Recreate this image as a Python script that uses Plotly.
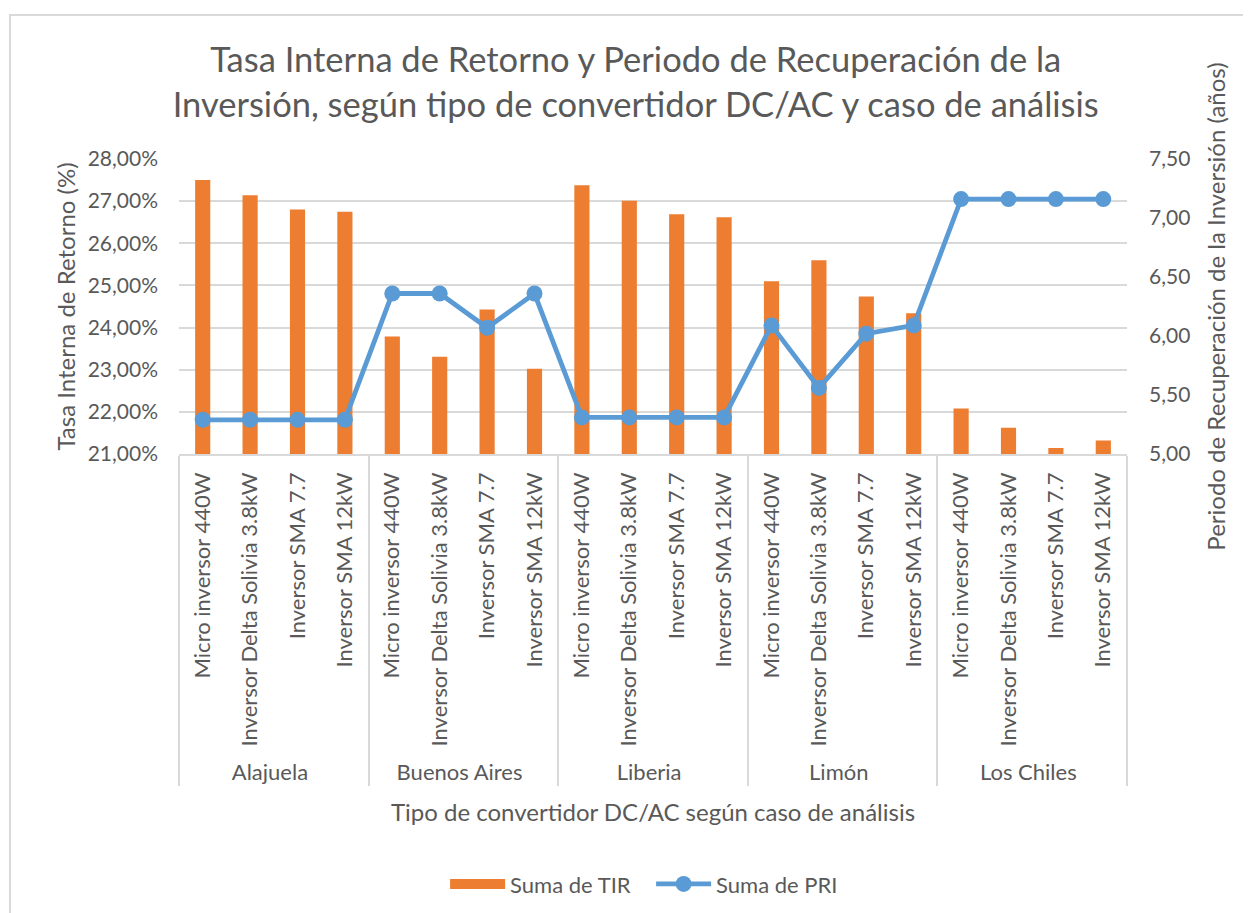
import plotly.graph_objects as go

cities = ["Alajuela", "Buenos Aires", "Liberia", "Limón", "Los Chiles"]
inverters = ["Micro inversor 440W", "Inversor Delta Solivia 3.8kW", "Inversor SMA 7.7", "Inversor SMA 12kW"]

tir = [27.50, 27.14, 26.80, 26.75,
       23.79, 23.31, 24.43, 23.02,
       27.38, 27.01, 26.69, 26.62,
       25.10, 25.60, 24.74, 24.34,
       22.08, 21.62, 21.14, 21.32]
pri = [5.29, 5.29, 5.29, 5.29,
       6.36, 6.36, 6.07, 6.36,
       5.31, 5.31, 5.31, 5.31,
       6.09, 5.56, 6.02, 6.09,
       7.16, 7.16, 7.16, 7.16]

tir_frac = [v / 100 for v in tir]
x_outer = [c for c in cities for _ in inverters]
x_inner = [i for _ in cities for i in inverters]

FONT = "Lato"
GREY = "#595959"
ORANGE = "#ED7D31"
BLUE = "#5B9BD5"

fig = go.Figure()
fig.add_trace(go.Bar(
    x=[x_outer, x_inner], y=tir_frac, name="Suma de TIR",
    marker=dict(color=ORANGE, line=dict(width=0)), width=0.32,
    yaxis="y", showlegend=False,
))
# legend entry styled as a wide orange swatch
fig.add_trace(go.Scatter(
    x=[None], y=[None], name="Suma de TIR", mode="lines",
    line=dict(color=ORANGE, width=14), yaxis="y",
))
fig.add_trace(go.Scatter(
    x=[x_outer, x_inner], y=pri, name="Suma de PRI", mode="lines+markers",
    line=dict(color=BLUE, width=4.8), marker=dict(size=16, color=BLUE),
    yaxis="y2",
))

fig.update_layout(
    width=1243, height=905,
    paper_bgcolor="white", plot_bgcolor="white",
    font=dict(family=FONT, color=GREY, size=21),
    margin=dict(l=171, r=124, t=151, b=459, autoexpand=False),
    title=dict(
        text="Tasa Interna de Retorno y Periodo de Recuperación de la<br>Inversión, según tipo de convertidor DC/AC y caso de análisis",
        x=0.505, xanchor="center", y=0.929, yanchor="top",
        font=dict(family=FONT, size=34.5, color=GREY),
    ),
    xaxis=dict(
        type="multicategory", tickangle=-90, automargin=False,
        range=[-0.5, 19.5], autorange=False,
        showline=True, linecolor="#D9D9D9", linewidth=1.5,
        showdividers=True, dividercolor="#D9D9D9", dividerwidth=1.5,
        ticks="", tickfont=dict(size=22, color=GREY), ticklabelstandoff=8,
        title=dict(text="Tipo de convertidor DC/AC según caso de análisis",
                   font=dict(size=24, color=GREY), standoff=20),
    ),
    yaxis=dict(
        range=[0.21, 0.28], dtick=0.01, tickformat=".2%", automargin=False,
        showgrid=True, gridcolor="#D9D9D9", gridwidth=1.5,
        zeroline=False, ticks="", ticklabelstandoff=20,
        title=dict(text="Tasa Interna de Retorno (%)", font=dict(size=24, color=GREY), standoff=5),
        tickfont=dict(size=21, color=GREY),
    ),
    yaxis2=dict(
        range=[5.0, 7.5], dtick=0.5, tickformat=".2f", automargin=False,
        overlaying="y", side="right", showgrid=False, zeroline=False, ticks="",
        ticklabelstandoff=21,
        title=dict(text="Periodo de Recuperación de la Inversión (años)",
                   font=dict(size=24, color=GREY), standoff=18),
        tickfont=dict(size=21, color=GREY),
    ),
    separators=",.",
    legend=dict(
        orientation="h", x=0.498, xanchor="center", y=-1.458, yanchor="middle",
        font=dict(size=22, color=GREY), itemwidth=55, entrywidth=136,
    ),
    shapes=[dict(type="rect", xref="paper", yref="paper",
                 x0=-0.1783, x1=1.25, y0=-1.7, y1=1.488,
                 line=dict(color="#D9D9D9", width=2), layer="below")],
)

fig.write_html("out.html")
